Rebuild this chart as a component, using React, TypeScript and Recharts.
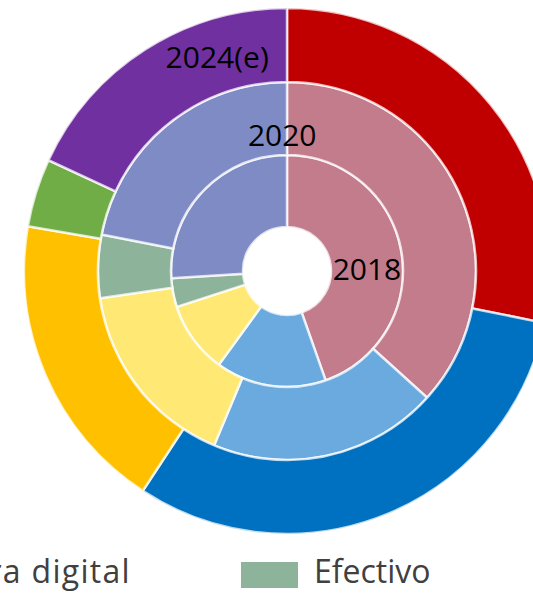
import { Cell, Legend, Pie, PieChart } from "recharts";

// Cuota por método de pago (%), anillo interior 2018 → exterior 2024(e)
const categories = ["Tarjeta de crédito", "Tarjeta de débito", "Cartera digital", "Efectivo", "Otros"];
const share2018 = [44.6, 15.4, 10.0, 4.0, 26.0];
const share2020 = [36.7, 19.6, 16.4, 5.4, 21.9];
const share2024e = [28.2, 31.1, 18.5, 4.2, 18.1];
const years = ["2018", "2020", "2024(e)"];

const LIGHT = ["#C27C8C", "#6AAADF", "#FFE874", "#8DB49B", "#7F8BC4"];
const STRONG = ["#C00000", "#0070C0", "#FFC000", "#70AD47", "#7030A0"];

const W = 533;
const H = 593;
const CX = 287;
const CY = 271;
const FONT = "'Open Sans', 'Noto Sans', sans-serif";

const toRows = (values: number[]) => categories.map((name, i) => ({ name, value: values[i] }));

// año escrito sobre su anillo: ángulo en grados desde las 12 en sentido horario
const yearLabel = (text: string, angle: number, radius: number) => (props: { index: number }) => {
  if (props.index !== 0) return null;
  const a = (angle * Math.PI) / 180;
  return (
    <text
      x={CX + radius * Math.sin(a)}
      y={CY - radius * Math.cos(a)}
      textAnchor="middle"
      dominantBaseline="central"
      fill="#000"
      fontSize={30}
      fontFamily={FONT}
    >
      {text}
    </text>
  );
};

const legendText = { position: "absolute", top: 7, fontSize: 32, lineHeight: 1, color: "#404040", whiteSpace: "nowrap" } as const;

// leyenda recortada: sólo se ven "…ra digital" y "Efectivo"
function LegendRow() {
  return (
    <div style={{ position: "relative", width: W, height: 45, fontFamily: FONT }}>
      <span style={{ ...legendText, right: W - 131, letterSpacing: 1.3 }}>{categories[2]}</span>
      <span style={{ position: "absolute", left: 241, top: 14, width: 57, height: 26, background: LIGHT[3] }} />
      <span style={{ ...legendText, left: 314 }}>{categories[3]}</span>
    </div>
  );
}

const ring = {
  cx: CX,
  cy: CY,
  dataKey: "value",
  startAngle: 90,
  endAngle: -270,
  stroke: "#ffffff",
  strokeWidth: 2.5,
  strokeOpacity: 0.75,
  labelLine: false,
  isAnimationActive: false,
} as const;

export default function App() {
  return (
    <div style={{ width: W, height: H, overflow: "hidden", background: "#fff" }}>
      <style>{`body{margin:0}`}</style>
      <PieChart width={W} height={H} margin={{ top: 0, right: 0, bottom: 0, left: 0 }}>
        <Pie {...ring} data={toRows(share2018)} name={years[0]} innerRadius={44} outerRadius={116} label={yearLabel(years[0], 88.5, 80)}>
          {categories.map((c, i) => (
            <Cell key={c} fill={LIGHT[i]} />
          ))}
        </Pie>
        <Pie {...ring} data={toRows(share2020)} name={years[1]} innerRadius={116} outerRadius={189} label={yearLabel(years[1], 358, 137)}>
          {categories.map((c, i) => (
            <Cell key={c} fill={LIGHT[i]} />
          ))}
        </Pie>
        <Pie {...ring} data={toRows(share2024e)} name={years[2]} innerRadius={189} outerRadius={263} label={yearLabel(years[2], 342, 226)}>
          {categories.map((c, i) => (
            <Cell key={c} fill={STRONG[i]} />
          ))}
        </Pie>
        <Legend
          verticalAlign="bottom"
          content={() => <LegendRow />}
          wrapperStyle={{ left: 0, bottom: 0, top: 548, width: W, height: 45 }}
        />
      </PieChart>
    </div>
  );
}
